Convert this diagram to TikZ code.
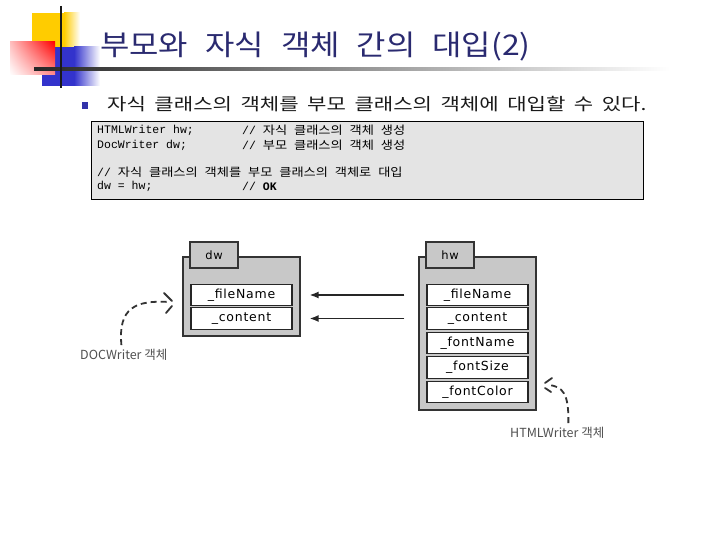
\documentclass[tikz,border=0pt]{standalone}
\usepackage{fontspec}
\setmainfont{Noto Sans CJK KR}
\newfontfamily\titlefont{Noto Sans CJK KR}[FakeStretch=1.12]
\newfontfamily\sentfont{Noto Sans CJK KR}[FakeStretch=1.24, WordSpace=1.8]
\newfontfamily\codefont{Liberation Mono}
\newfontfamily\krcode{Noto Sans CJK KR}[FakeStretch=1.15]
\newfontfamily\fieldfont{DejaVu Sans}[LetterSpace=6]
\newfontfamily\labelfont{Noto Sans CJK KR}
\newcommand\korc[1]{{\krcode #1}}
\newcommand\tsp{\hskip 17pt\relax}
\usetikzlibrary{arrows.meta,shadings}
\definecolor{titlec}{RGB}{42,42,112}
\definecolor{yellowc}{RGB}{255,204,0}
\definecolor{bluec}{RGB}{51,51,204}
\definecolor{bulletc}{RGB}{51,51,170}
\definecolor{codebg}{RGB}{228,228,228}
\definecolor{boxgray}{RGB}{200,200,200}
\definecolor{lblgray}{RGB}{80,80,80}
\tikzset{
  code/.style={anchor=west, inner sep=0, font=\codefont\fontsize{11.5}{13}\selectfont},
  outer/.style={draw=black!80, fill=boxgray, line width=1.3pt, inner sep=0},
  tabbox/.style={outer, minimum width=48pt, minimum height=26pt, font=\fieldfont\fontsize{11.5}{12}\selectfont},
  field/.style={draw=black!85, fill=white, line width=1.2pt, minimum width=101pt, minimum height=21.5pt, inner sep=0, font=\fieldfont\fontsize{12.5}{13}\selectfont},
  conn/.style={line width=1.4pt, black!85, -{Latex[length=9pt,width=7pt]}},
  dashcurve/.style={line width=1.8pt, black!80, dash pattern=on 6pt off 4pt},
  headarm/.style={line width=1.8pt, black!80, line cap=round},
  lbl/.style={inner sep=0, text=lblgray, font=\labelfont\fontsize{12.5}{14}\selectfont}
}
\begin{document}
\begin{tikzpicture}[x=1pt, y=-1pt]
\fill[white] (0,0) rectangle (720,540);
\useasboundingbox (0,0) rectangle (720,540);
% decoration
\fill[yellowc] (32,13) rectangle (64,47);
\shade[left color=yellowc, right color=white] (64,13) rectangle (80,47);
\fill[bluec] (42,47) rectangle (74,86);
\shade[left color=bluec, right color=white] (74,47) rectangle (100,86);
\shade[upper left=red!25, upper right=red, lower left=white, lower right=red!45] (10,42) rectangle (55,75);
\shade[left color=black!85, middle color=black!50, right color=white] (34,67.5) rectangle (670,70.5);
\draw[line width=2.5pt, black!90] (61,6) -- (61,88);
% title
\node[anchor=base west, text=titlec, inner sep=0, font=\titlefont\fontsize{28.5}{30}\selectfont] (title) at (100,56) {부모와\tsp 자식\tsp 객체\tsp 간의\tsp 대입(2)};
% bullet
\node[fill=bulletc, minimum size=6.5pt, inner sep=0] (bul) at (85,105.5) {};
\node[anchor=base west, inner sep=0, text=black!90, font=\sentfont\fontsize{17}{19}\selectfont] (sent) at (107,111) {자식 클래스의 객체를 부모 클래스의 객체에 대입할 수 있다.};
% code box
\node[draw=black, fill=codebg, line width=0.8pt, minimum width=552pt, minimum height=78pt, inner sep=0] (codebox) at (367,160) {};
\node[code] (c1) at (97,130) {HTMLWriter hw;};
\node[code] (c1c) at (242,130) {// \korc{자식} \korc{클래스의} \korc{객체} \korc{생성}};
\node[code] (c2) at (97,145) {DocWriter dw;};
\node[code] (c2c) at (242,145) {// \korc{부모} \korc{클래스의} \korc{객체} \korc{생성}};
\node[code] (c4) at (97,172) {// \korc{자식} \korc{클래스의} \korc{객체를} \korc{부모} \korc{클래스의} \korc{객체로} \korc{대입}};
\node[code] (c5) at (97,186) {dw = hw;};
\node[code] (c5c) at (242,186) {// \textbf{OK}};
% dw object
\node[outer, minimum width=117pt, minimum height=79pt] (dw) at (241.5,296.5) {};
\node[tabbox] (dwtab) at (214,255) {dw};
\node[field] (dwf1) at (241.5,295) {\_fileName};
\node[field] (dwf2) at (241.5,318.5) {\_content};
% hw object
\node[outer, minimum width=117pt, minimum height=153pt] (hw) at (477.5,333.5) {};
\node[tabbox] (hwtab) at (450,255) {hw};
\node[field] (hwf1) at (477.5,295) {\_fileName};
\node[field] (hwf2) at (477.5,318.5) {\_content};
\node[field] (hwf3) at (477.5,343) {\_fontName};
\node[field] (hwf4) at (477.5,367.5) {\_fontSize};
\node[field] (hwf5) at (477.5,392) {\_fontColor};
% assignment arrows
\draw[conn, shorten <=14pt, shorten >=9pt] (hwf1.west -| hw.west) -- (dwf1.east -| dw.east);
\draw[conn, shorten <=14pt, shorten >=9pt] (hwf2.west -| hw.west) -- (dwf2.east -| dw.east);
% labels
\node[lbl, anchor=west] (doclbl) at (80,355) {DOCWriter 객체};
\node[lbl, anchor=west] (htmllbl) at (510,433) {HTMLWriter 객체};
\coordinate (doctip) at (174,302);
\coordinate (htmltip) at (543,385);
\draw[dashcurve, shorten <=4pt] ([xshift=-2pt]doclbl.north) .. controls (118,308) and (135,300) .. ([xshift=-5pt]doctip);
\draw[headarm] ([shift={(-10,-9)}]doctip) -- ([shift={(-2,-1)}]doctip);
\draw[headarm] ([shift={(-2,4)}]doctip) -- ([shift={(-8,11)}]doctip);
\draw[dashcurve, shorten <=4pt] ([xshift=11pt]htmllbl.north) .. controls (569,394) and (563,386) .. ([xshift=5pt]htmltip);
\draw[headarm] ([shift={(9,-7)}]htmltip) -- ([shift={(2,-2)}]htmltip);
\draw[headarm] ([shift={(2,3)}]htmltip) -- ([shift={(8,7)}]htmltip);
\end{tikzpicture}
\end{document}
